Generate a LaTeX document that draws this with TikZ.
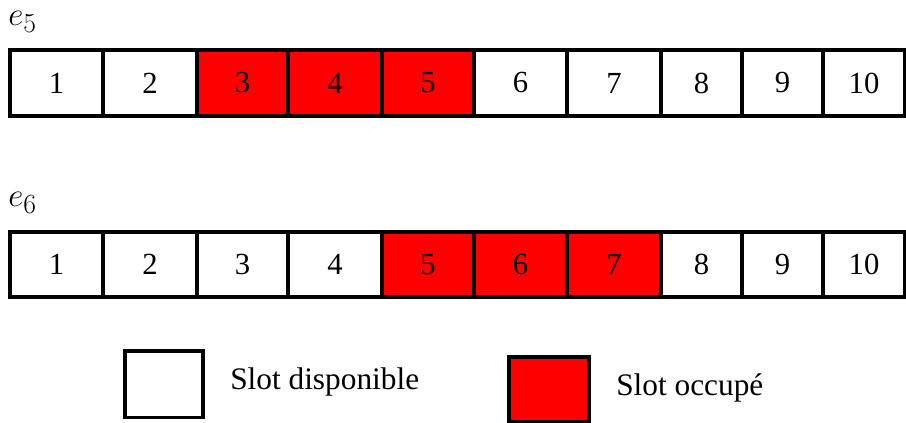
\documentclass[tikz,border=0pt]{standalone}
\usepackage{fontspec}
\setmainfont{Liberation Serif}
\usetikzlibrary{positioning}
\definecolor{SlotRed}{HTML}{FF0000}
\tikzset{
  slot/.style={draw=black,line width=2.5pt,fill=white,inner sep=0pt,
               font=\fontsize{23}{26}\selectfont},
  busy/.style={slot,fill=SlotRed},
  keytext/.style={font=\fontsize{23.5}{26}\selectfont,inner sep=0pt},
  rowlabel/.style={font=\fontsize{28}{32}\selectfont,anchor=west,inner sep=0pt}
}

\begin{document}
\begin{tikzpicture}[x=0.75pt,y=-0.75pt]
  \useasboundingbox (0,0) rectangle (906,423);

  % spectre du lien e5
  \node[rowlabel] (lab5) at (8,22) {$e_5$};
  \foreach \i/\l/\r/\s in {1/10/103/slot,2/103/197/slot,3/197/288/busy,4/288/382/busy,
      5/382/474/busy,6/474/567/slot,7/567/661/slot,8/661/742/slot,9/742/823/slot,10/823/905/slot}
    \node[\s,minimum width={(\r-\l)*0.75pt},minimum height=49.5pt] (e5s\i) at ({(\l+\r)/2},83) {\i};

  % spectre du lien e6
  \node[rowlabel] (lab6) at (8,203) {$e_6$};
  \foreach \i/\l/\r/\s in {1/10/103/slot,2/103/197/slot,3/197/288/slot,4/288/382/slot,
      5/382/474/busy,6/474/567/busy,7/567/661/busy,8/661/742/slot,9/742/823/slot,10/823/905/slot}
    \node[\s,minimum width={(\r-\l)*0.75pt},minimum height=48.75pt] (e6s\i) at ({(\l+\r)/2},264.5) {\i};

  % legende
  \node[slot,minimum width=58.5pt,minimum height=50pt] (freekey) at (164,384.5) {};
  \node[keytext,right=19pt of freekey,yshift=2pt] (freetext) {Slot disponible};
  \node[busy,minimum width=60pt,minimum height=48.75pt] (busykey) at (549,389.5) {};
  \node[keytext,right=19pt of busykey,yshift=1pt] (busytext) {Slot occupé};
\end{tikzpicture}
\end{document}
